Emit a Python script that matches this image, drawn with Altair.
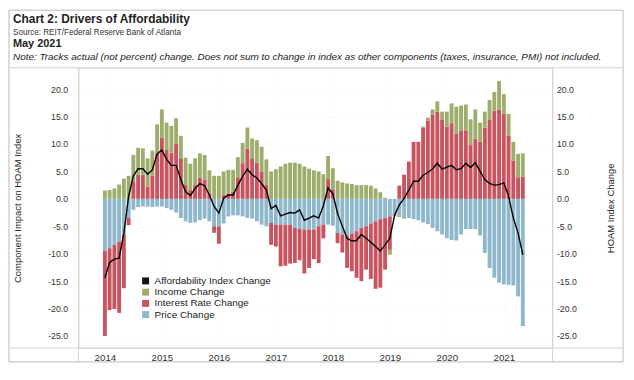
import altair as alt
import pandas as pd

# ---- data ----
months = [f"{y}-{m:02d}" for y in range(2014, 2022) for m in range(1, 13)][:89]

price = [-9.5, -9.0, -8.4, -7.8, -6.5, -3.5, -2.0, -1.5, -1.4, -1.4, -1.5, -1.4,
         -1.4, -1.7, -2.0, -2.5, -3.5, -4.1, -4.4, -4.3, -3.9, -3.6, -4.1, -5.0,
         -5.0, -4.5, -3.2, -3.0, -3.0, -3.2, -3.5, -3.6, -4.1, -4.7, -5.0, -4.4,
         -4.7, -4.7, -4.7, -4.7, -5.3, -5.5, -5.6, -5.6, -5.6, -5.0, -4.7, -4.7,
         -4.9, -6.2, -6.5, -6.8, -6.3, -5.9, -5.3, -5.0, -4.5, -4.1, -3.7, -3.5,
         -3.2, -2.7, -3.0, -3.3, -3.5, -3.7, -3.9, -4.3, -4.6, -5.3, -5.9, -6.5,
         -7.2, -7.5, -7.6, -6.5, -5.5, -5.5, -5.5, -6.7, -9.9, -12.6, -14.4, -15.3,
         -15.6, -15.7, -15.8, -17.8, -23.2]

interest = [-15.5, -11.3, -11.7, -13.0, -9.8, -1.3, 3.2, 4.4, 4.4, 2.2, 4.2, 8.3,
            11.2, 8.9, 8.4, 10.0, 7.4, 2.5, 1.6, 2.5, 3.9, 3.5, 1.0, -1.2,
            -3.2, 0.7, 1.0, 1.3, 3.8, 6.5, 9.2, 7.4, 6.6, 5.0, 2.5, -4.0,
            -4.0, -7.6, -7.5, -7.1, -6.4, -5.7, -8.0, -7.0, -5.4, -6.7, -2.5, 3.6,
            1.6, -1.9, -3.3, -5.8, -6.9, -8.5, -9.7, -7.9, -10.1, -12.3, -12.5, -9.4,
            -6.1, -0.2, 2.4, 4.4, 6.8, 10.4, 10.4, 13.0, 14.3, 15.4, 15.9, 14.4,
            13.2, 13.8, 11.9, 12.5, 12.5, 9.8, 11.0, 10.4, 13.0, 14.4, 16.1, 16.3,
            15.5, 11.5, 7.0, 3.8, 4.1]

income = [1.5, 1.6, 1.9, 2.6, 3.7, 4.2, 4.8, 4.9, 4.8, 5.2, 4.6, 5.3,
          5.1, 5.0, 4.9, 4.7, 4.1, 5.0, 4.8, 4.9, 4.4, 4.5, 4.2, 4.2,
          4.2, 4.3, 4.3, 4.0, 3.8, 3.7, 3.8, 3.6, 4.1, 4.5, 4.7, 5.0,
          5.4, 5.9, 6.4, 6.6, 6.6, 6.4, 5.9, 5.5, 5.2, 5.0, 4.5, 4.2,
          4.0, 3.3, 3.0, 2.8, 2.7, 2.5, 2.5, 2.5, 2.4, 1.9, 1.2, 0.2,
          -0.9, -0.3, -0.3, -0.3, 0.0, 0.0, 0.0, 0.2, 0.5, 0.9, 1.9, 1.5,
          2.7, 3.6, 4.9, 4.5, 4.7, 4.7, 5.3, 3.5, 2.9, 3.6, 3.4, 5.2,
          3.6, 4.0, 3.4, 4.4, 4.2]

afford = [-14.4, -11.6, -11.0, -10.8, -6.3, 0.5, 4.2, 5.5, 5.5, 4.5, 5.3, 8.2,
          8.9, 7.2, 6.1, 6.1, 3.5, 1.3, 0.6, 1.9, 2.8, 2.4, 0.7, -1.4,
          -2.6, 0.1, 0.7, 0.7, 2.5, 4.1, 5.4, 4.4, 3.8, 2.8, 1.6, -1.8,
          -1.2, -3.1, -2.8, -2.5, -2.6, -2.0, -3.9, -3.5, -3.1, -3.5, -1.3, 2.0,
          0.9, -2.7, -5.0, -7.2, -7.7, -7.6, -6.5, -7.2, -7.9, -8.7, -9.5, -8.4,
          -7.2, -3.0, -1.1, 0.1, 1.6, 3.2, 3.2, 4.3, 4.8, 5.5, 6.5, 5.4,
          5.8, 6.1, 5.3, 5.5, 6.5, 5.7, 6.6, 5.0, 3.5, 2.8, 2.5, 2.6,
          2.9, 0.5, -3.5, -6.2, -10.2]

series_names = ["Affordability Index Change", "Income Change",
                "Interest Rate Change", "Price Change"]
series_colors = ["#151515", "#9dae6c", "#c7545f", "#90b8cc"]
year_ticks = [0, 12, 24, 36, 48, 60, 72, 84]
y_ticks = [-25, -20, -15, -10, -5, 0, 5, 10, 15, 20]

# ---- tables ----
rows = []
for i, m in enumerate(months):
    rows.append({"idx": i, "month": m, "component": "Price Change", "value": price[i], "ord": 0})
    rows.append({"idx": i, "month": m, "component": "Interest Rate Change", "value": interest[i], "ord": 1})
    rows.append({"idx": i, "month": m, "component": "Income Change", "value": income[i], "ord": 2})
bars_df = pd.DataFrame(rows)
line_df = pd.DataFrame({"idx": list(range(len(months))), "month": months, "aff": afford})

W, H = 477, 282
YDOM = [-27.2, 23.9]
FONT = "Liberation Sans"
MINUS_FIX = "replace(format(datum.value, '.1f'), '\u2212', '-')"
GRID = "#efefef"

x_enc = alt.X(
    "idx:Q",
    scale=alt.Scale(domain=[-4.5, 93.2], nice=False, zero=False),
    axis=alt.Axis(values=year_ticks, labelExpr="toString(2014 + datum.value / 12)",
                  title=None, grid=True, gridColor=GRID, gridDash=[1, 3],
                  domain=False, ticks=False, labelFontSize=9.8, labelPadding=5,
                  labelColor="#333333", labelFont=FONT),
)

bars = alt.Chart(bars_df).mark_bar(size=3.9).encode(
    x=x_enc,
    y=alt.Y("value:Q", stack="zero",
            scale=alt.Scale(domain=YDOM, nice=False, zero=False),
            axis=alt.Axis(orient="left", values=y_ticks, labelExpr=MINUS_FIX,
                          title="Component Impact on HOAM Index",
                          titleX=-61, titleY=141, titleAngle=270,
                          titleAlign="center", titleBaseline="middle",
                          titleFontWeight="normal", titleFontSize=9.5,
                          titleFont=FONT, titleColor="#222222",
                          labelPadding=11, labelFontSize=8.8, labelFont=FONT,
                          labelColor="#333333", ticks=False, domain=False,
                          grid=True, gridColor=GRID, gridDash=[1, 3])),
    color=alt.Color("component:N",
                    scale=alt.Scale(domain=series_names, range=series_colors),
                    legend=alt.Legend(orient="none", legendX=62.5, legendY=209.5,
                                      title=None, symbolType="square", symbolSize=49,
                                      symbolStrokeWidth=0, labelFontSize=10,
                                      labelFont=FONT, labelColor="#222222",
                                      rowPadding=1.3, padding=0)),
    order=alt.Order("ord:Q"),
)

line = alt.Chart(line_df).mark_line(color="#000000", strokeWidth=1.4).encode(
    x=x_enc,
    y=alt.Y("aff:Q",
            scale=alt.Scale(domain=YDOM, nice=False, zero=False),
            axis=alt.Axis(orient="right", values=y_ticks, labelExpr=MINUS_FIX,
                          title="HOAM Index Change",
                          titleX=58, titleY=141, titleAngle=270,
                          titleAlign="center", titleBaseline="middle",
                          titleFontWeight="normal", titleFontSize=9.5,
                          titleFont=FONT, titleColor="#222222",
                          labelPadding=4, labelFontSize=8.8, labelFont=FONT,
                          labelColor="#333333", ticks=False, domain=False,
                          grid=False)),
)

one = pd.DataFrame({"a": [0]})


def rule(x, x2, y, y2, color):
    return alt.Chart(one).mark_rule(color=color, strokeWidth=1).encode(
        x=alt.value(x), x2=alt.value(x2), y=alt.value(y), y2=alt.value(y2))


frame = alt.Chart(one).mark_rect(fillOpacity=0, stroke="#b9b9b9", strokeWidth=1).encode(
    x=alt.value(-70), x2=alt.value(548), y=alt.value(-58), y2=alt.value(296))

lines = [
    rule(-70, 548, 0, 0, "#d4d4d4"),
    rule(-70, 548, H, H, "#d4d4d4"),
    rule(0, 0, 0, 296, "#d4d4d4"),
    rule(W, W, 0, 296, "#d4d4d4"),
]


def label(text, y, size, weight="normal", style="normal", color="#222222"):
    return alt.Chart(one).mark_text(text=text, align="left", baseline="alphabetic",
                                    font=FONT, fontSize=size, fontWeight=weight,
                                    fontStyle=style, color=color).encode(
        x=alt.value(-66), y=alt.value(y))


texts = [
    label("Chart 2: Drivers of Affordability", -45, 12, weight="bold"),
    label("Source: REIT/Federal Reserve Bank of Atlanta", -33, 8.2, color="#333333"),
    label("May 2021", -21, 11, weight="bold"),
    label("Note: Tracks actual (not percent) change. Does not sum to change in index as "
          "other components (taxes, insurance, PMI) not included.", -8, 10, style="italic"),
]

chart = alt.layer(frame, *lines, bars, line, *texts).resolve_scale(
    y="independent"
).properties(
    width=W, height=H,
    autosize=alt.AutoSizeParams(type="none"),
    padding={"left": 71, "top": 59, "right": 74, "bottom": 23},
).configure_view(stroke=None).configure(background="white")

chart.save("out.html", embed_options={"renderer": "svg", "actions": False})
